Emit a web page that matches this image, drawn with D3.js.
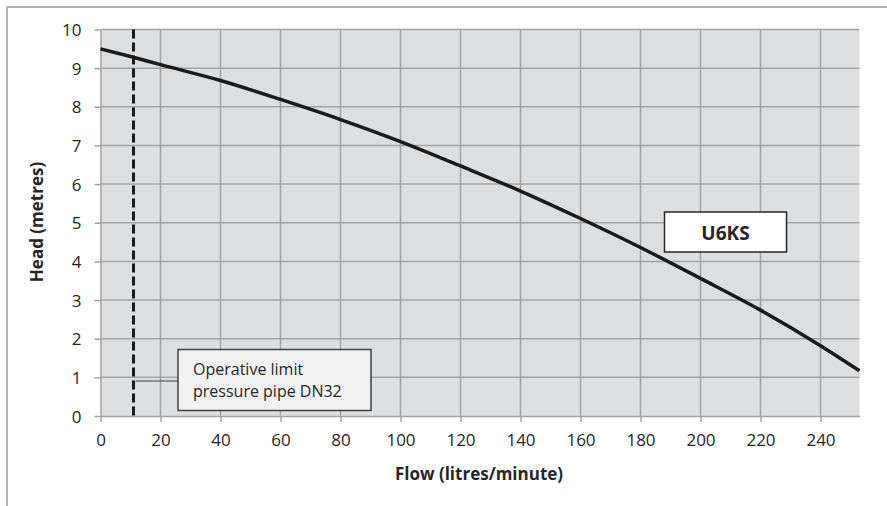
<!DOCTYPE html>
<html><head><meta charset="utf-8">
<script src="https://cdn.jsdelivr.net/npm/d3@7/dist/d3.min.js"></script>
<style>
html,body{margin:0;padding:0;background:#fff;}
text{font-family:"Open Sans","Liberation Sans",sans-serif;fill:#262626;}
</style></head>
<body>
<svg id="c" width="887" height="506"></svg>
<script>
// Data
const flow = [0, 10, 20, 40, 60, 80, 100, 120, 140, 160, 180, 200, 220, 240, 253];
const head = [9.5, 9.3, 9.09, 8.68, 8.19, 7.67, 7.10, 6.47, 5.82, 5.11, 4.36, 3.56, 2.74, 1.82, 1.17];
const xTicks = [0, 20, 40, 60, 80, 100, 120, 140, 160, 180, 200, 220, 240];
const yTicks = [0, 1, 2, 3, 4, 5, 6, 7, 8, 9, 10];
const limitFlow = 11;
const limitLabel = ["Operative limit", "pressure pipe DN32"];
const seriesName = "U6KS";
const xTitle = "Flow (litres/minute)";
const yTitle = "Head (metres)";

const svg = d3.select("#c");
const m = {l: 100.5, r: 859.5, t: 29.5, b: 416};
const x = d3.scaleLinear().domain([0, 253]).range([m.l, m.r]);
const y = d3.scaleLinear().domain([0, 10]).range([m.b, m.t]);

// outer frame (top and left)
svg.append("path").attr("d", "M7,506 V7 H887").attr("fill", "none")
  .attr("stroke", "#b3b3b3").attr("stroke-width", 2);

// plot background
svg.append("rect").attr("x", m.l).attr("y", m.t).attr("width", m.r - m.l).attr("height", m.b - m.t)
  .attr("fill", "#dddee0");

// grid
const g = svg.append("g");
g.selectAll("line.v").data(xTicks.filter(d => d > 0)).join("line")
  .attr("x1", d => x(d)).attr("x2", d => x(d)).attr("y1", m.t).attr("y2", m.b)
  .attr("stroke", "#a3a3a3").attr("stroke-width", 1.5);
g.selectAll("line.h").data(yTicks.filter(d => d > 0)).join("line")
  .attr("x1", m.l).attr("x2", m.r).attr("y1", d => y(d)).attr("y2", d => y(d))
  .attr("stroke", "#a3a3a3").attr("stroke-width", 1.5);

// axes
const xAxis = svg.append("g").attr("transform", `translate(0,${m.b})`)
  .call(d3.axisBottom(x).tickValues(xTicks).tickSize(6).tickPadding(12).tickSizeOuter(0));
const yAxis = svg.append("g").attr("transform", `translate(${m.l},0)`)
  .call(d3.axisLeft(y).tickValues(yTicks).tickSize(6).tickPadding(13).tickSizeOuter(0));
[xAxis, yAxis].forEach(a => {
  a.select(".domain").attr("stroke", "#a3a3a3").attr("stroke-width", 1.5);
  a.selectAll(".tick line").attr("stroke", "#a3a3a3").attr("stroke-width", 1.5);
  a.selectAll(".tick text").attr("font-size", 17).attr("fill", "#262626")
    .attr("font-family", "'Open Sans', sans-serif");
});
yAxis.selectAll(".tick text").attr("dy", "0.36em");

// curve
const line = d3.line().x((d, i) => x(flow[i])).y(d => y(d)).curve(d3.curveMonotoneX);
svg.append("path").datum(head).attr("d", line).attr("fill", "none")
  .attr("stroke", "#1a1a1a").attr("stroke-width", 3.5);

// limit dashed line
svg.append("line").attr("x1", x(limitFlow)).attr("x2", x(limitFlow)).attr("y1", m.t).attr("y2", m.b)
  .attr("stroke", "#1a1a1a").attr("stroke-width", 3).attr("stroke-dasharray", "9,4");

// annotation
svg.append("line").attr("x1", x(limitFlow) + 2).attr("x2", 178).attr("y1", 381).attr("y2", 381)
  .attr("stroke", "#404040").attr("stroke-width", 1);
svg.append("rect").attr("x", 178).attr("y", 349.5).attr("width", 193).attr("height", 61)
  .attr("fill", "#f2f2f2").attr("stroke", "#404040").attr("stroke-width", 1.5);
svg.selectAll("text.ann").data(limitLabel).join("text")
  .attr("x", 193).attr("y", (d, i) => 375 + i * 22).attr("font-size", 16).text(d => d);

// series label box
svg.append("rect").attr("x", 664.5).attr("y", 212).attr("width", 122).attr("height", 40)
  .attr("fill", "#fff").attr("stroke", "#262626").attr("stroke-width", 1.5);
svg.append("text").attr("x", 725.5).attr("y", 239.5).attr("text-anchor", "middle")
  .attr("font-size", 19).attr("font-weight", "bold").text(seriesName);

// axis titles
svg.append("text").attr("x", 479).attr("y", 480).attr("text-anchor", "middle")
  .attr("font-size", 17).attr("font-weight", "bold").text(xTitle);
svg.append("text").attr("transform", "translate(43,222) rotate(-90)").attr("text-anchor", "middle")
  .attr("font-size", 17).attr("font-weight", "bold").text(yTitle);
</script>
</body></html>
